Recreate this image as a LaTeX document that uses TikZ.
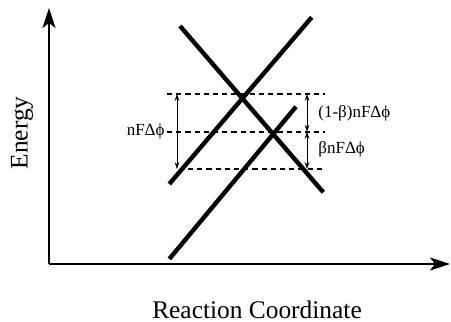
\documentclass[tikz,border=0pt]{standalone}
\usepackage{fontspec}
\setmainfont{Liberation Serif}
\usetikzlibrary{arrows.meta,positioning}
\tikzset{
  curve/.style={line width=2.2pt},
  axis/.style={line width=1.1pt,-{Stealth[length=10pt,width=6.5pt,inset=2.5pt]}},
  lvl/.style={dash pattern=on 2.6pt off 2pt,line width=0.9pt},
  dim/.style={line width=0.4pt,{Stealth[length=3.5pt,width=2.4pt]}-{Stealth[length=3.5pt,width=2.4pt]}},
  lbl/.style={font=\fontsize{8.5}{10}\selectfont,inner sep=1pt},
  ttl/.style={font=\fontsize{12.7}{15}\selectfont,inner sep=0pt}
}

\begin{document}
\begin{tikzpicture}[x=0.5pt,y=0.5pt]
\useasboundingbox (0,0) rectangle (451,322);
% axes
\coordinate (o) at (49,58);
\coordinate (yt) at (49,314);
\coordinate (xt) at (450,58);
\draw[axis] (o)--(yt);
\draw[axis] (o)--(xt);
\node[ttl,rotate=90] (en) at (22,189) {Energy};
\node[ttl] (rc) at (257,12) {Reaction Coordinate};
% energy curves
\coordinate (a1) at (169.3,138); \coordinate (a2) at (311.7,304.7);
\coordinate (b1) at (180,296);   \coordinate (b2) at (323.3,129.7);
\coordinate (c1) at (169.3,63);  \coordinate (c2) at (296,215.3);
\draw[curve] (a1)--(a2);
\draw[curve] (b1)--(b2);
\draw[curve] (c1)--(c2);
% levels
\coordinate (t1) at (167,228);   \coordinate (t2) at (325,228);
\coordinate (m1) at (167,190.3); \coordinate (m2) at (325,190.3);
\coordinate (u1) at (188,153);   \coordinate (u2) at (322,153);
\draw[lvl] (t1)--(t2);
\draw[lvl] (m1)--(m2);
\draw[lvl] (u1)--(u2);
% differences
\coordinate (lt) at (177,228); \coordinate (lb) at (177,153);
\coordinate (rt) at (307,228); \coordinate (rm) at (307,190.3); \coordinate (rb) at (307,153);
\draw[dim] (lt)--(lb);
\draw[dim] (rt)--(rm);
\draw[dim] (rm)--(rb);
\node[lbl,anchor=east] (dl) at (m1) {nFΔϕ};
\node[lbl,anchor=west] (dr1) at (316,209) {(1-β)nFΔϕ};
\node[lbl,anchor=west] (dr2) at (316,173) {βnFΔϕ};
\end{tikzpicture}
\end{document}
